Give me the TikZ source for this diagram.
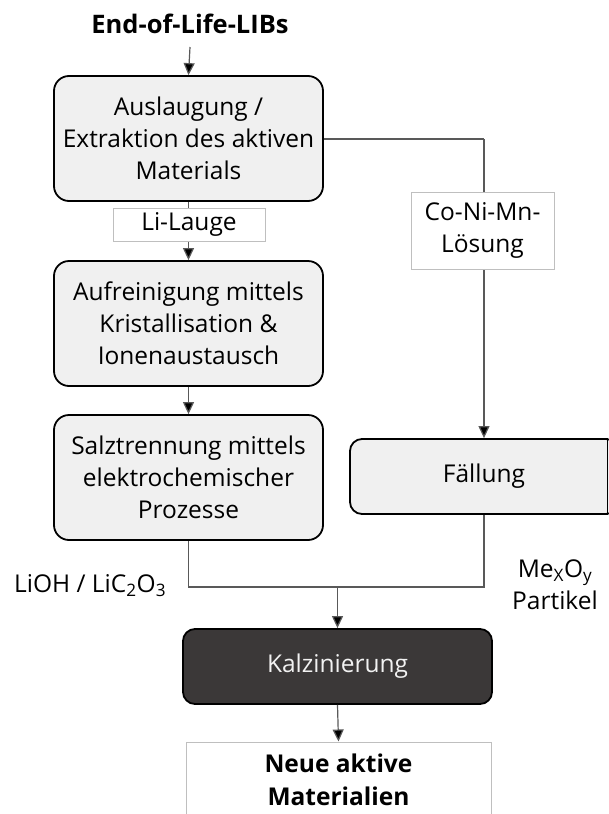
\documentclass[tikz,border=0pt]{standalone}
\usepackage{fontspec}
\setmainfont{Open Sans}
\usetikzlibrary{arrows.meta}
\definecolor{boxfill}{HTML}{F0F0F0}
\definecolor{darkfill}{HTML}{3B3838}
\definecolor{linegray}{HTML}{595959}
\definecolor{lblgray}{HTML}{BFBFBF}
\definecolor{lighttext}{HTML}{F2F2F2}
\begin{document}
\begin{tikzpicture}[x=1pt,y=-1pt,
  txt/.style={font=\fontsize{24.5}{32}\selectfont, inner sep=0pt, align=center},
  boldtxt/.style={font=\fontsize{24.5}{33}\selectfont\bfseries, inner sep=0pt, align=center},
  procbox/.style={txt, draw=black, line width=1.8pt, fill=boxfill, rounded corners=15pt,
    minimum width=269pt, minimum height=125pt},
  wideproc/.style={txt, draw=black, line width=1.8pt, fill=boxfill, rounded corners=12pt,
    minimum width=268pt, minimum height=75pt},
  darkbox/.style={txt, draw=black, line width=1.8pt, fill=darkfill, text=lighttext,
    rounded corners=12pt, minimum width=309pt, minimum height=75pt},
  lblbox/.style={txt, draw=lblgray, line width=1pt, fill=white},
  outbox/.style={boldtxt, draw=lblgray, line width=1pt, fill=white,
    minimum width=305pt, minimum height=76pt},
  conn/.style={draw=linegray, line width=1.2pt},
  arr/.style={conn, -{Triangle[length=12pt,width=11pt,fill=black]}},
]
\useasboundingbox (0,0) rectangle (609,814);
\clip (0,0) rectangle (609,814);

% nodes
\node[boldtxt, font=\fontsize{25.5}{33}\selectfont\bfseries] (title) at (190,24) {End-of-Life-LIBs};
\coordinate (t0) at (190,47);
\node[procbox] (b1) at (188.5,138.5) {Auslaugung /\\Extraktion des aktiven\\Materials};
\node[procbox] (b2) at (188.5,323.5) {Aufreinigung mittels\\Kristallisation \&\\Ionenaustausch};
\node[procbox] (b3) at (188.5,477.5) {Salztrennung mittels\\elektrochemischer\\Prozesse};
\node[wideproc] (fa) at (484,476.5) {F\"allung};
\coordinate (fr) at (607.5,476.5);
\draw[draw=black, line width=1.8pt] (fa.north -| fr) -- (fa.south -| fr);
\node[darkbox] (ka) at (337.5,666.5) {Kalzinierung};
\node[outbox] (ne) at (338.5,780) {Neue aktive\\Materialien};

% connectors
\coordinate (c1) at (484,139);
\coordinate (j) at (337.5,587);
\draw[arr] (t0) -- (b1.north);
\draw[arr] (b1.south) -- (b2.north);
\draw[conn] (b1.east |- c1) -- (c1);
\draw[arr] (c1) -- (fa.north);
\draw[arr] (b2.south) -- (b3.north);
\draw[conn] (b3.south) |- (j) -| (fa.south);
\draw[arr] (j) -- (ka.north);
\draw[arr] (ka.south) -- (ne.north);

% labels
\node[lblbox, minimum width=152pt, minimum height=33pt] (ll) at (189,224.5) {Li-Lauge};
\node[lblbox, minimum width=143pt, minimum height=77pt] (co) at (482.5,230.5) {Co-Ni-Mn-\\L\"osung};
\node[txt, anchor=west] (li) at (14,586) {LiOH / LiC\textsubscript{2}O\textsubscript{3}};
\node[txt] (me) at (555,585) {Me\textsubscript{X}O\textsubscript{y}\\Partikel};
\end{tikzpicture}
\end{document}
